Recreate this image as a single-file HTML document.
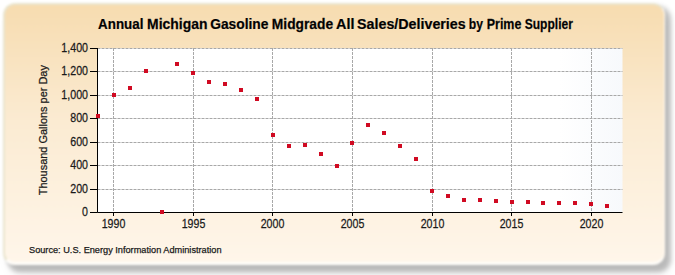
<!DOCTYPE html>
<html><head><meta charset="utf-8"><style>
html,body{margin:0;padding:0;width:675px;height:275px;overflow:hidden;background:#fff;}
#bg{position:absolute;left:0;top:0;width:675px;height:275px;filter:blur(1px);}
#sh{position:absolute;left:7px;top:6px;width:664px;height:266px;border-radius:13px;background:rgba(0,0,0,0.23);filter:blur(2px);}
#sh2{position:absolute;left:8px;top:12px;width:662px;height:265px;border-radius:14px;background:rgba(0,0,0,0.06);filter:blur(4px);}
#box{position:absolute;left:3px;top:3px;width:662px;height:262px;box-sizing:border-box;border-radius:12px;border-bottom:3px solid #fffdf9;border-right:1px solid #fffaf2;border-top:2px solid #EAE5CF;border-left:2px solid #EAE5CF;
background:linear-gradient(to bottom,#F7DCB0 0%,#FBEBD2 45%,#FFF6EA 100%);}
svg{position:absolute;left:0;top:0;}
text{font-family:"Liberation Sans",sans-serif;fill:#1a1a1a;stroke:#1a1a1a;stroke-width:0.25px;}
.g{stroke:#A8A8A8;stroke-width:1;stroke-dasharray:3,1;}
.a{stroke:#000;stroke-width:1;}
.yl{font-size:13px;text-anchor:end;}
.xl{font-size:13px;text-anchor:middle;}
.t{font-size:14px;font-weight:bold;fill:#000;}
.s{font-size:9.2px;}
.yt{font-size:11.5px;text-anchor:middle;}
</style></head><body>
<div id="bg"><div id="sh2"></div><div id="sh"></div><div id="box"></div></div>
<svg width="675" height="275" viewBox="0 0 675 275">
<text transform="translate(98.10,29) scale(0.955,1)" class="t">Annual</text><text transform="translate(147.11,29) scale(0.995,1)" class="t">Michigan</text><text transform="translate(210.21,29) scale(0.986,1)" class="t">Gasoline</text><text transform="translate(271.81,29) scale(0.987,1)" class="t">Midgrade</text><text transform="translate(336.00,29) scale(1.029,1)" class="t">All</text><text transform="translate(357.08,29) scale(1.019,1)" class="t">Sales/Deliveries</text><text transform="translate(468.83,29) scale(0.867,1)" class="t">by</text><text transform="translate(486.71,29) scale(0.892,1)" class="t">Prime</text><text transform="translate(524.74,29) scale(0.860,1)" class="t">Supplier</text>
<text transform="translate(47.2,130.2) rotate(-90) scale(0.952,1)" class="yt">Thousand Gallons per Day</text>
<defs><linearGradient id="pg" x1="0" x2="1" y1="0" y2="0"><stop offset="0" stop-color="#fff"/><stop offset="0.88" stop-color="#fff"/><stop offset="1" stop-color="#F7F9FC"/></linearGradient></defs>
<rect x="97.5" y="48" width="525.0" height="164" fill="url(#pg)"/>
<line x1="97.5" y1="189.5" x2="622.5" y2="189.5" class="g"/>
<line x1="97.5" y1="165.5" x2="622.5" y2="165.5" class="g"/>
<line x1="97.5" y1="142.5" x2="622.5" y2="142.5" class="g"/>
<line x1="97.5" y1="118.5" x2="622.5" y2="118.5" class="g"/>
<line x1="97.5" y1="95.5" x2="622.5" y2="95.5" class="g"/>
<line x1="97.5" y1="71.5" x2="622.5" y2="71.5" class="g"/>
<line x1="97.5" y1="48.5" x2="622.5" y2="48.5" class="g"/>
<line x1="113.5" y1="48" x2="113.5" y2="212" class="g"/>
<line x1="193.5" y1="48" x2="193.5" y2="212" class="g"/>
<line x1="272.5" y1="48" x2="272.5" y2="212" class="g"/>
<line x1="352.5" y1="48" x2="352.5" y2="212" class="g"/>
<line x1="432.5" y1="48" x2="432.5" y2="212" class="g"/>
<line x1="511.5" y1="48" x2="511.5" y2="212" class="g"/>
<line x1="591.5" y1="48" x2="591.5" y2="212" class="g"/>
<line x1="97.5" y1="48" x2="97.5" y2="212.5" class="a"/>
<line x1="97.5" y1="212.5" x2="622.5" y2="212.5" class="a"/>
<line x1="90" y1="212.5" x2="97.5" y2="212.5" class="a"/>
<text transform="translate(88,216.3) scale(0.82,1)" class="yl">0</text>
<line x1="90" y1="189.5" x2="97.5" y2="189.5" class="a"/>
<text transform="translate(88,193.3) scale(0.82,1)" class="yl">200</text>
<line x1="90" y1="165.5" x2="97.5" y2="165.5" class="a"/>
<text transform="translate(88,169.3) scale(0.82,1)" class="yl">400</text>
<line x1="90" y1="142.5" x2="97.5" y2="142.5" class="a"/>
<text transform="translate(88,146.3) scale(0.82,1)" class="yl">600</text>
<line x1="90" y1="118.5" x2="97.5" y2="118.5" class="a"/>
<text transform="translate(88,122.3) scale(0.82,1)" class="yl">800</text>
<line x1="90" y1="95.5" x2="97.5" y2="95.5" class="a"/>
<text transform="translate(88,99.3) scale(0.82,1)" class="yl">1,000</text>
<line x1="90" y1="71.5" x2="97.5" y2="71.5" class="a"/>
<text transform="translate(88,75.3) scale(0.82,1)" class="yl">1,200</text>
<line x1="90" y1="48.5" x2="97.5" y2="48.5" class="a"/>
<text transform="translate(88,52.3) scale(0.82,1)" class="yl">1,400</text>
<line x1="113.5" y1="212" x2="113.5" y2="216" class="a"/>
<text transform="translate(113.5,228) scale(0.82,1)" class="xl">1990</text>
<line x1="193.5" y1="212" x2="193.5" y2="216" class="a"/>
<text transform="translate(193.5,228) scale(0.82,1)" class="xl">1995</text>
<line x1="272.5" y1="212" x2="272.5" y2="216" class="a"/>
<text transform="translate(272.5,228) scale(0.82,1)" class="xl">2000</text>
<line x1="352.5" y1="212" x2="352.5" y2="216" class="a"/>
<text transform="translate(352.5,228) scale(0.82,1)" class="xl">2005</text>
<line x1="432.5" y1="212" x2="432.5" y2="216" class="a"/>
<text transform="translate(432.5,228) scale(0.82,1)" class="xl">2010</text>
<line x1="511.5" y1="212" x2="511.5" y2="216" class="a"/>
<text transform="translate(511.5,228) scale(0.82,1)" class="xl">2015</text>
<line x1="591.5" y1="212" x2="591.5" y2="216" class="a"/>
<text transform="translate(591.5,228) scale(0.82,1)" class="xl">2020</text>
<rect x="96" y="114" width="4" height="4" fill="#D00A22"/>
<rect x="112" y="93" width="4" height="4" fill="#D00A22"/>
<rect x="128" y="86" width="4" height="4" fill="#D00A22"/>
<rect x="144" y="69" width="4" height="4" fill="#D00A22"/>
<rect x="160" y="210" width="4" height="4" fill="#D00A22"/>
<rect x="175" y="62" width="4" height="4" fill="#D00A22"/>
<rect x="191" y="71" width="4" height="4" fill="#D00A22"/>
<rect x="207" y="80" width="4" height="4" fill="#D00A22"/>
<rect x="223" y="82" width="4" height="4" fill="#D00A22"/>
<rect x="239" y="88" width="4" height="4" fill="#D00A22"/>
<rect x="255" y="97" width="4" height="4" fill="#D00A22"/>
<rect x="271" y="133" width="4" height="4" fill="#D00A22"/>
<rect x="287" y="144" width="4" height="4" fill="#D00A22"/>
<rect x="303" y="143" width="4" height="4" fill="#D00A22"/>
<rect x="319" y="152" width="4" height="4" fill="#D00A22"/>
<rect x="335" y="164" width="4" height="4" fill="#D00A22"/>
<rect x="350" y="141" width="4" height="4" fill="#D00A22"/>
<rect x="366" y="123" width="4" height="4" fill="#D00A22"/>
<rect x="382" y="131" width="4" height="4" fill="#D00A22"/>
<rect x="398" y="144" width="4" height="4" fill="#D00A22"/>
<rect x="414" y="157" width="4" height="4" fill="#D00A22"/>
<rect x="430" y="189" width="4" height="4" fill="#D00A22"/>
<rect x="446" y="194" width="4" height="4" fill="#D00A22"/>
<rect x="462" y="198" width="4" height="4" fill="#D00A22"/>
<rect x="478" y="198" width="4" height="4" fill="#D00A22"/>
<rect x="494" y="199" width="4" height="4" fill="#D00A22"/>
<rect x="510" y="200" width="4" height="4" fill="#D00A22"/>
<rect x="526" y="200" width="4" height="4" fill="#D00A22"/>
<rect x="541" y="201" width="4" height="4" fill="#D00A22"/>
<rect x="557" y="201" width="4" height="4" fill="#D00A22"/>
<rect x="573" y="201" width="4" height="4" fill="#D00A22"/>
<rect x="589" y="202" width="4" height="4" fill="#D00A22"/>
<rect x="605" y="204" width="4" height="4" fill="#D00A22"/>
<text x="29" y="253" class="s">Source: U.S. Energy Information Administration</text>
</svg>
</body></html>
